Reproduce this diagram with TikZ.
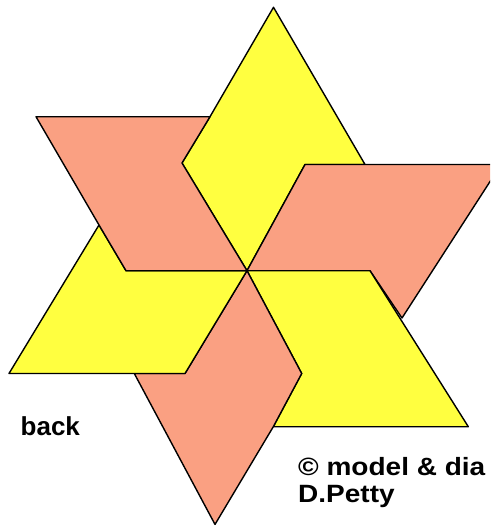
\documentclass[tikz,border=0pt]{standalone}
\usepackage{fontspec}
\usepackage{graphicx}
\newfontfamily\labfont{Liberation Sans}
\definecolor{flapyellow}{RGB}{255,255,64}
\definecolor{flapsalmon}{RGB}{250,160,130}
\begin{document}
\begin{tikzpicture}[x=1pt,y=-1pt,
  flap/.style={draw=black,line width=1.4pt,line join=round},
  yel/.style={flap,fill=flapyellow},
  sal/.style={flap,fill=flapsalmon},
  lab/.style={anchor=base west,inner sep=0pt,font=\labfont\bfseries}]
\useasboundingbox (0,0) rectangle (490,527);
\fill[white] (0,0) rectangle (490,527);
\clip (0,0) rectangle (490,527);
\coordinate (C) at (247,270.7);
% top yellow
\draw[yel] (273.5,7.3) -- (365,164.5) -- (305,164.5) -- (C) -- (182,163) -- (210,116.7) -- cycle;
% right salmon
\draw[sal] (305,164.5) -- (501,164.5) -- (402,318) -- (370,270.7) -- (C) -- cycle;
% lower-right yellow
\draw[yel] (C) -- (370,270.7) -- (468.3,426.7) -- (273.3,426.7) -- (301.7,373.5) -- cycle;
% bottom salmon
\draw[sal] (C) -- (301.7,373.5) -- (273.3,426.7) -- (215,524.4) -- (134.3,373.5) -- (185,373.5) -- cycle;
% lower-left yellow
\draw[yel] (99,225) -- (9,373.5) -- (185,373.5) -- (C) -- (126,270.7) -- cycle;
% upper-left salmon
\draw[sal] (36,116.7) -- (210,116.7) -- (182,163) -- (C) -- (126,270.7) -- (99,225) -- cycle;
% labels
\node[lab] (back) at (20.5,435) {\fontsize{26}{30}\selectfont back};
\node[lab] (credit1) at (298,475) {\fontsize{25}{30}\selectfont\scalebox{1.12}[1]{© model \& dia}};
\node[lab] (credit2) at (298,502.5) {\fontsize{25}{30}\selectfont\scalebox{1.12}[1]{D.Petty}};
\end{tikzpicture}
\end{document}
